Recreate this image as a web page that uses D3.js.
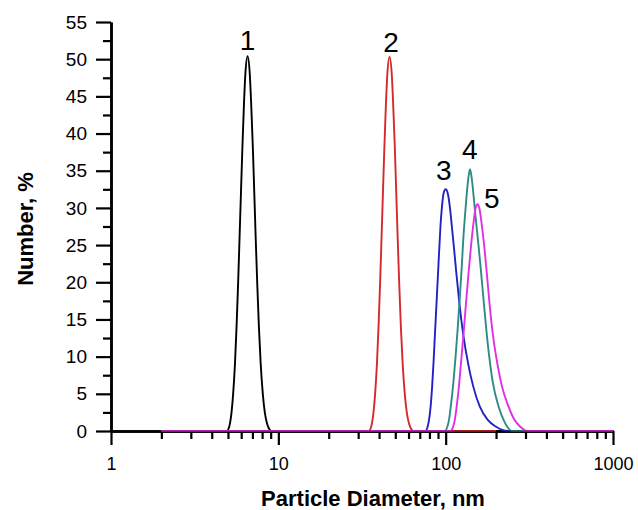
<!DOCTYPE html>
<html>
<head>
<meta charset="utf-8">
<script src="https://cdn.jsdelivr.net/npm/d3@7"></script>
<style>
  body { margin: 0; background: #fff; }
  svg { font-family: Arial, "Liberation Sans", sans-serif; }
</style>
</head>
<body>
<div id="chart"></div>
<script>
// Number distribution curves, [diameter nm, number %]
var curve1 = [[2,0],[4.937,0],[5.040,0.3],[5.138,1],[5.252,2.5],[5.370,5],[5.505,9],[5.627,14],[5.753,20],[5.865,26],[5.979,32],[6.096,38],[6.232,44],[6.353,48],[6.549,50.4],
              [6.751,48],[6.882,44],[7.045,38],[7.183,32],[7.323,26],[7.476,20],[7.653,14],[7.846,9],[8.076,5],[8.302,2.5],[8.558,1],[8.809,0.3],[9.055,0],[1000,0]];
var curve2 = [[2,0],[34.83,0],[35.55,0.3],[36.24,1],[37.05,2.5],[37.88,5],[38.83,9],[39.70,14],[40.58,20],[41.38,26],[42.18,32],[43.00,38],[43.96,44],[44.82,48],[46.20,50.3],
              [47.62,48],[48.55,44],[49.70,38],[50.67,32],[51.66,26],[52.74,20],[53.99,14],[55.35,9],[56.97,5],[58.56,2.5],[60.37,1],[62.14,0.3],[63.88,0],[200,0]];
var curve3 = [[2,0],[75.90,0],[78.03,0.6],[79.55,1.5],[81.32,3.3],[83.02,6],[84.52,9],[86.29,13],[88.09,17],[89.93,21],[91.81,25],[93.08,27.5],[94.90,30],[97.28,32],[100,32.5],
              [102.8,32],[106.1,30],[108.9,27.5],[111.7,25],[116.1,21],[121.0,17],[127.3,13],[136.4,9],[146.1,6],[159.8,3.3],[178.4,1.5],[199.2,0.6],[235.1,0],[1000,0]];
var curve4 = [[2,0],[99.0,0],[102.4,0.6],[104.7,1.5],[107.3,3.3],[111.2,6.5],[114.6,10],[118.2,14],[121.5,18],[124.7,22],[127.6,26],[130.5,29],[133.8,32],[136.6,34],[139.8,35.2],
              [143.1,34],[146.3,32],[150.6,29],[155.4,26],[161.8,22],[167.9,18],[174.3,14],[182.1,10],[191.4,6.5],[207.1,3.3],[221.8,1.5],[232.8,0.6],[249.4,0],[1000,0]];
var curve5 = [[2,0],[106.7,0],[110.9,0.6],[113.4,1.5],[116.4,3.3],[120.0,6],[123.3,9],[127.8,13],[132.1,17],[136.7,21],[141.9,25],[146.7,28],[151.0,30],[154.8,30.5],
              [158.9,30],[163.8,28],[169.8,25],[176.5,21],[183.1,17],[191.4,13],[203.9,9],[217.0,6],[237.3,3.3],[257.8,1.5],[278.1,0.6],[308.4,0],[1000,0]];

// drawing order: 1, 3, 4, 2, 5 (5 on top)
var curveOrder = [curve1, curve3, curve4, curve2, curve5];
var curveColors = ["#000000", "#2323c4", "#2e8c84", "#d42a2a", "#e030e0"];

// peak labels: text, diameter nm, number %
var labelText = ["1", "2", "3", "4", "5"];
var labelX = [6.55, 47.2, 97.3, 139.2, 188.6];
var labelY = [51.3, 51.0, 33.7, 36.6, 30.0];

var yMajor = [0,5,10,15,20,25,30,35,40,45,50,55];
var yMinor = [2.5,7.5,12.5,17.5,22.5,27.5,32.5,37.5,42.5,47.5,52.5];
var xMajor = [1,10,100,1000];
var xMinor = [2,3,4,5,6,7,8,9,20,30,40,50,60,70,80,90,200,300,400,500,600,700,800,900];

var width = 638, height = 510;
var margin = {top: 22, right: 25, bottom: 79, left: 111};

var svg = d3.select("#chart").append("svg")
  .attr("width", width)
  .attr("height", height);

var x = d3.scaleLog()
  .domain([1, 1000])
  .range([margin.left, width - margin.right]);

var y = d3.scaleLinear()
  .domain([0, 55])
  .range([height - margin.bottom, margin.top]);

// minor ticks
svg.append("g")
  .attr("class", "axis")
  .attr("transform", "translate(0," + y(0) + ")")
  .call(d3.axisBottom(x).tickValues(xMinor).tickSize(8).tickSizeOuter(0).tickFormat(""));

svg.append("g")
  .attr("class", "axis")
  .attr("transform", "translate(" + x(1) + ",0)")
  .call(d3.axisLeft(y).tickValues(yMinor).tickSize(8).tickSizeOuter(0).tickFormat(""));

// X Axis
svg.append("g")
  .attr("class", "axis")
  .attr("transform", "translate(0," + y(0) + ")")
  .call(d3.axisBottom(x).tickValues(xMajor).tickSizeInner(14).tickSizeOuter(0).tickPadding(12).tickFormat(d3.format("d")))
  .selectAll("text")
  .attr("font-size", 18)
  .attr("fill", "#000");

// Y Axis
svg.append("g")
  .attr("class", "axis")
  .attr("transform", "translate(" + x(1) + ",0)")
  .call(d3.axisLeft(y).tickValues(yMajor).tickSizeInner(15).tickSizeOuter(0).tickPadding(9))
  .selectAll("text")
  .attr("font-size", 19)
  .attr("fill", "#000");

svg.selectAll(".axis path").attr("stroke", "#000").attr("stroke-width", 2.5);
svg.selectAll(".axis line").attr("stroke", "#000").attr("stroke-width", 2.2);

// curves
var line = d3.line()
  .x(function(d) { return x(d[0]); })
  .y(function(d) { return y(d[1]); })
  .curve(d3.curveMonotoneX);

svg.selectAll(".curve")
  .data(curveOrder)
  .enter()
  .append("path")
  .attr("class", "curve")
  .attr("d", line)
  .attr("fill", "none")
  .attr("stroke", function(d, i) { return curveColors[i]; })
  .attr("stroke-width", 1.9);

// x axis line again on top, half transparent, so the baseline looks dark like the original
svg.append("g")
  .attr("transform", "translate(0," + y(0) + ")")
  .call(d3.axisBottom(x).tickValues([]).tickSizeOuter(0))
  .select("path")
  .attr("stroke", "#000")
  .attr("stroke-opacity", 0.45)
  .attr("stroke-width", 1.9);

// peak labels
svg.selectAll(".peak")
  .data(labelText)
  .enter()
  .append("text")
  .attr("class", "peak")
  .attr("x", function(d, i) { return x(labelX[i]); })
  .attr("y", function(d, i) { return y(labelY[i]); })
  .attr("text-anchor", "middle")
  .style("font-size", "28px")
  .text(function(d) { return d; });

// X Axis Label
svg.append("text")
  .attr("x", 373)
  .attr("y", 506)
  .attr("text-anchor", "middle")
  .style("font-size", "22px")
  .style("font-weight", "bold")
  .text("Particle Diameter, nm");

// Y Axis Label
svg.append("text")
  .attr("transform", "translate(33,229) rotate(-90)")
  .attr("text-anchor", "middle")
  .style("font-size", "22px")
  .style("font-weight", "bold")
  .text("Number, %");
</script>
</body>
</html>
